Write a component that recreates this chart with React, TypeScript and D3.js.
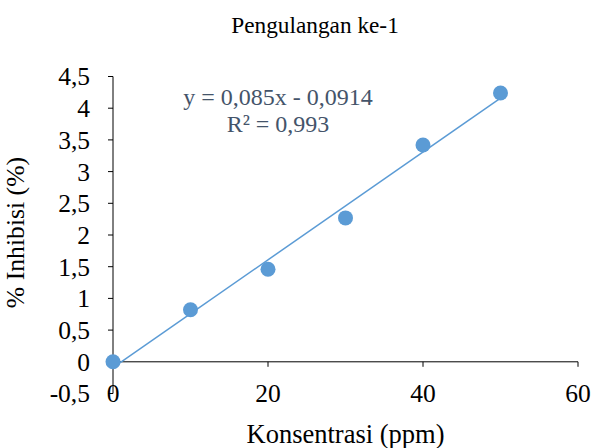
import React from "react";
import * as d3 from "d3";

const concentrations = [0, 10, 20, 30, 40, 50];
const inhibition = [0, 0.82, 1.46, 2.27, 3.42, 4.24];
const xTicks = [0, 20, 40, 60];
const yTicks = [-0.5, 0, 0.5, 1, 1.5, 2, 2.5, 3, 3.5, 4, 4.5];
const slope = 0.085;
const intercept = -0.0914;
const equationLines = ["y = 0,085x - 0,0914", "R² = 0,993"];

const W = 593;
const H = 448;
const FONT = "Liberation Serif";
const BLUE = "#5B9BD5";

const fmt = (v: number) => String(v).replace(".", ",");

export default function App() {
  const x = d3.scaleLinear().domain([0, 60]).range([113, 578]);
  const y = d3.scaleLinear().domain([-0.5, 4.5]).range([393.5, 76.5]);

  const fit = d3
    .line<number>()
    .x((d) => x(d))
    .y((d) => y(slope * d + intercept));

  const txt = { fontFamily: FONT } as React.CSSProperties;

  return (
    <svg
      width={W}
      height={H}
      style={{ position: "absolute", left: 0, top: 0, background: "#fff", fontFamily: FONT }}
    >
      <text x={315} y={33} textAnchor="middle" fontSize={23.3} fill="#000" style={txt}>
        Pengulangan ke-1
      </text>

      {/* vertical axis */}
      <line x1={x(0)} x2={x(0)} y1={y(4.5)} y2={y(-0.5)} stroke="#000" strokeWidth={1} />
      {yTicks.map((t) => (
        <g key={t}>
          <line x1={x(0) - 5} x2={x(0)} y1={y(t)} y2={y(t)} stroke="#000" />
          <text x={90} y={y(t)} dy="0.35em" textAnchor="end" fontSize={25.5} fill="#000" style={txt}>
            {fmt(t)}
          </text>
        </g>
      ))}

      {/* horizontal axis crossing at zero */}
      <line x1={x(0)} x2={x(60)} y1={y(0)} y2={y(0)} stroke="#000" strokeWidth={1} />
      {xTicks.map((t) => (
        <g key={t}>
          <line x1={x(t)} x2={x(t)} y1={y(0)} y2={y(0) + 5} stroke="#000" />
          <text x={x(t)} y={y(-0.5)} dy="0.35em" textAnchor="middle" fontSize={25.5} fill="#000" style={txt}>
            {fmt(t)}
          </text>
        </g>
      ))}

      {/* linear trendline */}
      <path d={fit([0, 50]) ?? ""} fill="none" stroke={BLUE} strokeWidth={1.5} />

      {concentrations.map((c, i) => (
        <circle key={c} cx={x(c)} cy={y(inhibition[i])} r={7.5} fill={BLUE} />
      ))}

      {equationLines.map((s, i) => (
        <text key={s} x={278} y={105 + i * 27} textAnchor="middle" fontSize={24} fill="#44546A" style={txt}>
          {s}
        </text>
      ))}

      <text x={345.5} y={443} textAnchor="middle" fontSize={26.5} fill="#000" style={txt}>
        Konsentrasi (ppm)
      </text>
      <text
        transform={`translate(24,232.5) rotate(-90)`}
        textAnchor="middle"
        fontSize={25.7}
        fill="#000"
        style={txt}
      >
        % Inhibisi (%)
      </text>
    </svg>
  );
}
